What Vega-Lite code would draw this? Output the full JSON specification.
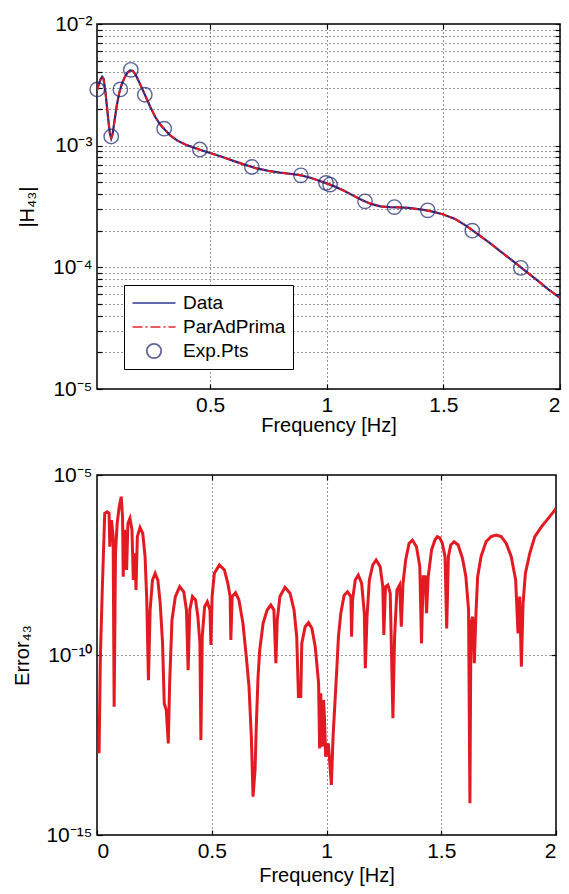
{
  "$schema": "https://vega.github.io/schema/vega-lite/v6.json",
  "background": "white",
  "padding": {"left": 12, "top": 12, "right": 10, "bottom": 6},
  "spacing": 27,
  "datasets": {
    "curve": [
      {"f": 0.015, "H": 2.85e-3}, {"f": 0.022, "H": 3.15e-3}, {"f": 0.030, "H": 3.5e-3}, {"f": 0.037, "H": 3.68e-3},
      {"f": 0.043, "H": 3.55e-3}, {"f": 0.050, "H": 2.9e-3}, {"f": 0.057, "H": 2.15e-3}, {"f": 0.064, "H": 1.6e-3},
      {"f": 0.070, "H": 1.27e-3}, {"f": 0.076, "H": 1.15e-3}, {"f": 0.082, "H": 1.25e-3}, {"f": 0.090, "H": 1.6e-3},
      {"f": 0.100, "H": 2.15e-3}, {"f": 0.110, "H": 2.7e-3}, {"f": 0.120, "H": 3.15e-3}, {"f": 0.132, "H": 3.6e-3},
      {"f": 0.145, "H": 3.98e-3}, {"f": 0.157, "H": 4.15e-3}, {"f": 0.168, "H": 4.12e-3}, {"f": 0.180, "H": 3.85e-3},
      {"f": 0.195, "H": 3.35e-3}, {"f": 0.210, "H": 2.9e-3}, {"f": 0.225, "H": 2.5e-3}, {"f": 0.245, "H": 2.05e-3},
      {"f": 0.265, "H": 1.72e-3}, {"f": 0.285, "H": 1.5e-3}, {"f": 0.305, "H": 1.36e-3}, {"f": 0.33, "H": 1.21e-3},
      {"f": 0.36, "H": 1.1e-3}, {"f": 0.40, "H": 1.01e-3}, {"f": 0.45, "H": 9.35e-4}, {"f": 0.50, "H": 8.7e-4},
      {"f": 0.55, "H": 8.1e-4}, {"f": 0.60, "H": 7.5e-4}, {"f": 0.65, "H": 6.95e-4}, {"f": 0.70, "H": 6.5e-4},
      {"f": 0.75, "H": 6.2e-4}, {"f": 0.80, "H": 6.0e-4}, {"f": 0.85, "H": 5.85e-4}, {"f": 0.89, "H": 5.7e-4},
      {"f": 0.93, "H": 5.45e-4}, {"f": 0.97, "H": 5.12e-4}, {"f": 1.00, "H": 4.9e-4}, {"f": 1.03, "H": 4.65e-4},
      {"f": 1.07, "H": 4.3e-4}, {"f": 1.11, "H": 3.92e-4}, {"f": 1.15, "H": 3.58e-4}, {"f": 1.19, "H": 3.32e-4},
      {"f": 1.23, "H": 3.17e-4}, {"f": 1.27, "H": 3.12e-4}, {"f": 1.31, "H": 3.11e-4}, {"f": 1.35, "H": 3.08e-4},
      {"f": 1.40, "H": 3.0e-4}, {"f": 1.45, "H": 2.88e-4}, {"f": 1.50, "H": 2.72e-4}, {"f": 1.55, "H": 2.5e-4},
      {"f": 1.60, "H": 2.18e-4}, {"f": 1.65, "H": 1.86e-4}, {"f": 1.70, "H": 1.58e-4}, {"f": 1.75, "H": 1.33e-4},
      {"f": 1.80, "H": 1.12e-4}, {"f": 1.85, "H": 9.4e-5}, {"f": 1.90, "H": 7.9e-5}, {"f": 1.95, "H": 6.6e-5},
      {"f": 2.00, "H": 5.6e-5}
    ],
    "pts": [
      {"series": "Exp.Pts", "f": 0.016, "H": 2.9e-3}, {"series": "Exp.Pts", "f": 0.076, "H": 1.19e-3},
      {"series": "Exp.Pts", "f": 0.115, "H": 2.9e-3}, {"series": "Exp.Pts", "f": 0.160, "H": 4.2e-3},
      {"series": "Exp.Pts", "f": 0.220, "H": 2.62e-3}, {"series": "Exp.Pts", "f": 0.303, "H": 1.38e-3},
      {"series": "Exp.Pts", "f": 0.456, "H": 9.3e-4}, {"series": "Exp.Pts", "f": 0.679, "H": 6.68e-4},
      {"series": "Exp.Pts", "f": 0.889, "H": 5.7e-4}, {"series": "Exp.Pts", "f": 0.997, "H": 4.94e-4},
      {"series": "Exp.Pts", "f": 1.014, "H": 4.79e-4}, {"series": "Exp.Pts", "f": 1.164, "H": 3.49e-4},
      {"series": "Exp.Pts", "f": 1.290, "H": 3.13e-4}, {"series": "Exp.Pts", "f": 1.433, "H": 2.94e-4},
      {"series": "Exp.Pts", "f": 1.624, "H": 2.0e-4}, {"series": "Exp.Pts", "f": 1.832, "H": 9.9e-5}
    ],
    "err": [
      {"f": 0.009, "E": 1.86e-13}, {"f": 0.0147, "E": 8.9e-11}, {"f": 0.0234, "E": 7.9e-9}, {"f": 0.0337, "E": 8.6e-7},
      {"f": 0.0440, "E": 9.5e-7}, {"f": 0.0527, "E": 8.6e-7}, {"f": 0.0557, "E": 1.02e-7}, {"f": 0.0630, "E": 5.6e-7},
      {"f": 0.0703, "E": 1.95e-7}, {"f": 0.0747, "E": 3.67e-12}, {"f": 0.0806, "E": 6.7e-8}, {"f": 0.0879, "E": 4.5e-7},
      {"f": 0.0967, "E": 1.32e-6}, {"f": 0.1055, "E": 2.5e-6}, {"f": 0.1113, "E": 7.0e-7}, {"f": 0.1143, "E": 1.5e-8},
      {"f": 0.1201, "E": 3.0e-7}, {"f": 0.1245, "E": 6.7e-8}, {"f": 0.1289, "E": 2.3e-8}, {"f": 0.1348, "E": 4.5e-7},
      {"f": 0.1436, "E": 6.25e-7}, {"f": 0.1524, "E": 3.0e-7}, {"f": 0.1582, "E": 1.21e-8}, {"f": 0.1655, "E": 6.7e-8},
      {"f": 0.1700, "E": 6.4e-9}, {"f": 0.1758, "E": 1.94e-7}, {"f": 0.1875, "E": 3.5e-7}, {"f": 0.1993, "E": 2.4e-7},
      {"f": 0.2095, "E": 5.4e-8}, {"f": 0.2168, "E": 3.4e-9}, {"f": 0.2242, "E": 2.0e-11}, {"f": 0.2315, "E": 1.78e-9},
      {"f": 0.2418, "E": 1.21e-8}, {"f": 0.2535, "E": 1.86e-8}, {"f": 0.2652, "E": 1.21e-8}, {"f": 0.2755, "E": 2.7e-9},
      {"f": 0.2857, "E": 2.1e-10}, {"f": 0.2930, "E": 4.5e-12}, {"f": 0.3018, "E": 2.96e-12}, {"f": 0.3106, "E": 3.5e-13},
      {"f": 0.3165, "E": 1.63e-11}, {"f": 0.3267, "E": 9.4e-10}, {"f": 0.3414, "E": 4.2e-9}, {"f": 0.3604, "E": 7.9e-9},
      {"f": 0.3780, "E": 5.7e-9}, {"f": 0.3897, "E": 1.78e-9}, {"f": 0.3971, "E": 3.8e-11}, {"f": 0.4044, "E": 1.78e-9},
      {"f": 0.4161, "E": 4.2e-9}, {"f": 0.4293, "E": 3.4e-9}, {"f": 0.4396, "E": 1.16e-9}, {"f": 0.4484, "E": 2.1e-10},
      {"f": 0.4527, "E": 4.35e-13}, {"f": 0.4586, "E": 3.2e-10}, {"f": 0.4689, "E": 2.2e-9}, {"f": 0.4806, "E": 3.0e-9},
      {"f": 0.4923, "E": 1.78e-9}, {"f": 0.4965, "E": 1.9e-10}, {"f": 0.5015, "E": 4.2e-9}, {"f": 0.5114, "E": 1.86e-8},
      {"f": 0.5333, "E": 3.16e-8}, {"f": 0.5553, "E": 2.3e-8}, {"f": 0.570, "E": 9.8e-9}, {"f": 0.5802, "E": 4.2e-9},
      {"f": 0.5832, "E": 2.6e-10}, {"f": 0.589, "E": 4.2e-9}, {"f": 0.6037, "E": 5.4e-9}, {"f": 0.6183, "E": 3.4e-9},
      {"f": 0.6359, "E": 7.6e-10}, {"f": 0.6505, "E": 9.0e-11}, {"f": 0.6623, "E": 1.32e-11}, {"f": 0.6725, "E": 5.4e-13},
      {"f": 0.6799, "E": 1.16e-14}, {"f": 0.6886, "E": 6.4e-14}, {"f": 0.6945, "E": 1.26e-12}, {"f": 0.7018, "E": 2.5e-11},
      {"f": 0.7091, "E": 1.38e-10}, {"f": 0.7238, "E": 7.6e-10}, {"f": 0.7414, "E": 1.78e-9}, {"f": 0.7575, "E": 2.45e-9},
      {"f": 0.7707, "E": 1.78e-9}, {"f": 0.7795, "E": 5.9e-11}, {"f": 0.7854, "E": 9.4e-10}, {"f": 0.7971, "E": 4.2e-9},
      {"f": 0.8190, "E": 7.6e-9}, {"f": 0.8410, "E": 5.2e-9}, {"f": 0.8586, "E": 1.78e-9}, {"f": 0.8703, "E": 3.2e-10},
      {"f": 0.8777, "E": 7.0e-12}, {"f": 0.8879, "E": 7.0e-12}, {"f": 0.8923, "E": 2.1e-10}, {"f": 0.907, "E": 6.1e-10},
      {"f": 0.9216, "E": 7.9e-10}, {"f": 0.9363, "E": 5.5e-10}, {"f": 0.9509, "E": 1.7e-10}, {"f": 0.9656, "E": 1.63e-11},
      {"f": 0.970, "E": 2.55e-13}, {"f": 0.975, "E": 8.6e-12}, {"f": 0.9817, "E": 2.85e-13}, {"f": 0.9875, "E": 5.6e-12},
      {"f": 0.9910, "E": 1.95e-12}, {"f": 0.9963, "E": 1.5e-13}, {"f": 1.0081, "E": 3.5e-13}, {"f": 1.0212, "E": 2.45e-14},
      {"f": 1.0286, "E": 5.4e-13}, {"f": 1.0374, "E": 5.6e-12}, {"f": 1.0447, "E": 3.8e-11}, {"f": 1.052, "E": 3.2e-10},
      {"f": 1.0623, "E": 1.44e-9}, {"f": 1.0769, "E": 4.6e-9}, {"f": 1.0916, "E": 5.7e-9}, {"f": 1.1062, "E": 4.2e-9},
      {"f": 1.1092, "E": 3.2e-10}, {"f": 1.1136, "E": 3.4e-9}, {"f": 1.1253, "E": 1.21e-8}, {"f": 1.1385, "E": 1.67e-8},
      {"f": 1.1531, "E": 9.8e-9}, {"f": 1.1648, "E": 1.44e-9}, {"f": 1.1692, "E": 4.3e-11}, {"f": 1.1766, "E": 1.16e-9},
      {"f": 1.1868, "E": 1.21e-8}, {"f": 1.2015, "E": 3.16e-8}, {"f": 1.2161, "E": 4.35e-8}, {"f": 1.2337, "E": 2.85e-8},
      {"f": 1.2454, "E": 7.9e-9}, {"f": 1.2498, "E": 3.6e-10}, {"f": 1.2571, "E": 7.9e-9}, {"f": 1.2674, "E": 8.8e-9},
      {"f": 1.2777, "E": 5.2e-9}, {"f": 1.2894, "E": 1.74e-12}, {"f": 1.2967, "E": 3.2e-10}, {"f": 1.307, "E": 6.4e-9},
      {"f": 1.3187, "E": 8.8e-9}, {"f": 1.326, "E": 6.1e-10}, {"f": 1.3333, "E": 9.8e-9}, {"f": 1.345, "E": 4.35e-8},
      {"f": 1.3597, "E": 1.26e-7}, {"f": 1.3744, "E": 1.56e-7}, {"f": 1.392, "E": 1.02e-7}, {"f": 1.4066, "E": 2.85e-8},
      {"f": 1.4139, "E": 2.1e-10}, {"f": 1.4212, "E": 1.5e-8}, {"f": 1.4300, "E": 1.5e-8}, {"f": 1.4359, "E": 1.44e-9},
      {"f": 1.4432, "E": 1.5e-8}, {"f": 1.4579, "E": 8.3e-8}, {"f": 1.4725, "E": 1.56e-7}, {"f": 1.4828, "E": 1.94e-7},
      {"f": 1.4940, "E": 1.8e-7}, {"f": 1.5048, "E": 1.26e-7}, {"f": 1.5165, "E": 5.4e-8}, {"f": 1.5238, "E": 5.5e-10},
      {"f": 1.5311, "E": 5.4e-8}, {"f": 1.5414, "E": 1.14e-7}, {"f": 1.556, "E": 1.4e-7}, {"f": 1.5736, "E": 1.14e-7},
      {"f": 1.5927, "E": 4.8e-8}, {"f": 1.6073, "E": 1.5e-8}, {"f": 1.619, "E": 1.78e-9}, {"f": 1.6249, "E": 7.6e-15},
      {"f": 1.6293, "E": 7.6e-10}, {"f": 1.6366, "E": 1.16e-9}, {"f": 1.644, "E": 5.9e-11}, {"f": 1.6513, "E": 1.44e-9},
      {"f": 1.6586, "E": 1.5e-8}, {"f": 1.6733, "E": 5.4e-8}, {"f": 1.6952, "E": 1.4e-7}, {"f": 1.7172, "E": 1.94e-7},
      {"f": 1.7392, "E": 2.15e-7}, {"f": 1.7612, "E": 1.94e-7}, {"f": 1.7832, "E": 1.26e-7}, {"f": 1.8051, "E": 5.4e-8},
      {"f": 1.8242, "E": 1.21e-8}, {"f": 1.8344, "E": 4.0e-10}, {"f": 1.8418, "E": 4.2e-9}, {"f": 1.8491, "E": 4.75e-11},
      {"f": 1.8564, "E": 2.7e-9}, {"f": 1.8667, "E": 1.86e-8}, {"f": 1.8857, "E": 6.7e-8}, {"f": 1.9077, "E": 1.94e-7},
      {"f": 1.937, "E": 3.67e-7}, {"f": 1.9663, "E": 6.25e-7}, {"f": 1.9956, "E": 1.07e-6}, {"f": 2.0, "E": 1.19e-6}
    ]
  },
  "vconcat": [
    {
      "width": 463,
      "height": 365,
      "layer": [
        {
          "data": {"name": "curve"},
          "mark": {"type": "line", "color": "#1c2a88", "strokeWidth": 2.2, "clip": true},
          "encoding": {
            "x": {"field": "f", "type": "quantitative", "scale": {"domain": [0.015, 2], "nice": false, "zero": false},
              "axis": {"orient": "bottom", "values": [0.5, 1, 1.5, 2], "format": "~g", "grid": true, "title": "Frequency [Hz]", "titlePadding": 0}},
            "y": {"field": "H", "type": "quantitative", "scale": {"type": "log", "domain": [1e-5, 1e-2], "nice": false},
              "axis": {"orient": "left", "title": "|H₄₃|", "grid": true, "titlePadding": 15,
                "values": [1e-5, 2e-5, 3e-5, 4e-5, 5e-5, 6e-5, 7e-5, 8e-5, 9e-5, 1e-4, 2e-4, 3e-4, 4e-4, 5e-4, 6e-4, 7e-4, 8e-4, 9e-4, 1e-3, 2e-3, 3e-3, 4e-3, 5e-3, 6e-3, 7e-3, 8e-3, 9e-3, 1e-2],
                "labelExpr": "datum.value == 0.01 ? '10⁻²' : datum.value == 0.001 ? '10⁻³' : datum.value == 0.0001 ? '10⁻⁴' : datum.value == 0.00001 ? '10⁻⁵' : ''"}}
          }
        },
        {
          "data": {"name": "curve"},
          "mark": {"type": "line", "color": "#e8161e", "strokeWidth": 2, "strokeDash": [7, 3, 2, 3], "clip": true},
          "encoding": {
            "x": {"field": "f", "type": "quantitative", "axis": null},
            "y": {"field": "H", "type": "quantitative", "axis": null}
          }
        },
        {
          "data": {"name": "pts"},
          "mark": {"type": "point", "filled": false, "size": 400, "strokeWidth": 1.4},
          "encoding": {
            "x": {"field": "f", "type": "quantitative", "axis": null},
            "y": {"field": "H", "type": "quantitative", "axis": null},
            "shape": {"field": "series", "type": "nominal",
              "scale": {"domain": ["Data", "ParAdPrima", "Exp.Pts"], "range": ["M-2.15,0H2.15", "M-2.15,0H-1.15M-0.85,0H-0.65M-0.35,0H0.65M0.95,0H1.15M1.45,0H2.15", "M0.72,0A0.72,0.72,0,1,1,-0.72,0A0.72,0.72,0,1,1,0.72,0Z"]},
              "legend": {"title": null}},
            "stroke": {"field": "series", "type": "nominal",
              "scale": {"domain": ["Data", "ParAdPrima", "Exp.Pts"], "range": ["#1c2a88", "#e8161e", "#1a2570"]},
              "legend": {"title": null}}
          }
        },
        {
          "data": {"name": "pts"},
          "mark": {"type": "point", "opacity": 0},
          "encoding": {
            "x": {"field": "f", "type": "quantitative", "axis": {"orient": "top", "labels": false, "title": null, "grid": false, "values": [0.5, 1, 1.5]}},
            "y": {"field": "H", "type": "quantitative", "axis": {"orient": "right", "labels": false, "title": null, "grid": false,
              "values": [1e-5, 2e-5, 3e-5, 4e-5, 5e-5, 6e-5, 7e-5, 8e-5, 9e-5, 1e-4, 2e-4, 3e-4, 4e-4, 5e-4, 6e-4, 7e-4, 8e-4, 9e-4, 1e-3, 2e-3, 3e-3, 4e-3, 5e-3, 6e-3, 7e-3, 8e-3, 9e-3, 1e-2]}}
          }
        }
      ],
      "resolve": {"axis": {"x": "independent", "y": "independent"}}
    },
    {
      "width": 459,
      "height": 360,
      "layer": [
        {
          "data": {"name": "err"},
          "mark": {"type": "line", "color": "#e31a22", "strokeWidth": 3, "clip": true},
          "encoding": {
            "x": {"field": "f", "type": "quantitative", "scale": {"domain": [0, 2], "nice": false},
              "axis": {"orient": "bottom", "values": [0, 0.5, 1, 1.5, 2], "format": "~g", "grid": true, "title": "Frequency [Hz]", "titlePadding": 4}},
            "y": {"field": "E", "type": "quantitative", "scale": {"type": "log", "domain": [1e-15, 1e-5], "nice": false},
              "axis": {"orient": "left", "title": "Error₄₃", "grid": true, "titlePadding": 13, "values": [1e-15, 1e-10, 1e-5],
                "labelExpr": "datum.value < 1e-12 ? '10⁻¹⁵' : datum.value < 1e-7 ? '10⁻¹⁰' : '10⁻⁵'"}}
          }
        },
        {
          "data": {"name": "err"},
          "mark": {"type": "point", "opacity": 0},
          "encoding": {
            "x": {"field": "f", "type": "quantitative", "axis": {"orient": "top", "labels": false, "title": null, "grid": false, "values": [0.5, 1, 1.5]}},
            "y": {"field": "E", "type": "quantitative", "axis": {"orient": "right", "labels": false, "title": null, "grid": false, "values": [1e-10]}}
          }
        }
      ],
      "resolve": {"axis": {"x": "independent", "y": "independent"}}
    }
  ],
  "config": {
    "font": "Liberation Sans",
    "view": {"stroke": "black", "strokeWidth": 1.5},
    "axis": {
      "domain": false,
      "labelFont": "Liberation Sans", "labelFontSize": 21, "labelColor": "black",
      "titleFont": "Liberation Sans", "titleFontSize": 20, "titleFontWeight": "normal", "titleColor": "black",
      "tickColor": "black", "tickSize": -5, "tickWidth": 1.2, "labelPadding": 10,
      "gridColor": "#333333", "gridDash": [1, 3], "gridWidth": 1, "gridOpacity": 1
    },
    "legend": {
      "orient": "none", "legendX": 27, "legendY": 261,
      "strokeColor": "black", "fillColor": "white", "padding": 7,
      "labelFont": "Liberation Sans", "labelFontSize": 19, "labelColor": "black", "labelLimit": 300,
      "symbolSize": 400, "symbolStrokeWidth": 1.8, "rowPadding": 3, "symbolOffset": 12, "labelOffset": 18
    }
  }
}
